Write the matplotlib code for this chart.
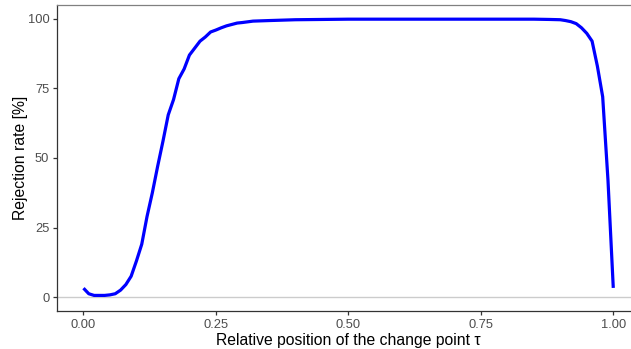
import matplotlib
matplotlib.use('Agg')
import matplotlib.pyplot as plt

plt.rcParams['font.family'] = ['Liberation Sans', 'DejaVu Sans']

# Rejection rate (%) against relative change point position tau
tau = [0.00, 0.01, 0.02, 0.03, 0.04, 0.05, 0.06, 0.07, 0.08, 0.09,
       0.10, 0.11, 0.12, 0.13, 0.14, 0.15, 0.16, 0.17, 0.18, 0.19,
       0.20, 0.21, 0.22, 0.23, 0.24, 0.25, 0.26, 0.27, 0.28, 0.29,
       0.30, 0.32, 0.35, 0.40, 0.45, 0.50, 0.55, 0.60, 0.65, 0.70,
       0.75, 0.80, 0.85, 0.88, 0.90, 0.91, 0.92, 0.93, 0.94, 0.95,
       0.96, 0.97, 0.98, 0.99, 1.00]
rejection = [3.2, 1.2, 0.6, 0.6, 0.6, 0.8, 1.2, 2.5, 4.5, 7.5,
             13.0, 19.0, 29.0, 37.5, 47.0, 56.0, 65.5, 71.0, 78.5, 82.0,
             87.0, 89.5, 92.0, 93.5, 95.3, 96.0, 96.8, 97.5, 98.0, 98.5,
             98.7, 99.2, 99.4, 99.7, 99.8, 99.9, 99.9, 99.9, 99.9, 99.9,
             99.9, 99.9, 99.9, 99.8, 99.7, 99.4, 99.0, 98.3, 96.8, 94.8,
             92.0, 83.0, 72.0, 42.0, 3.3]

x_ticks = [0.00, 0.25, 0.50, 0.75, 1.00]
x_tick_labels = ['0.00', '0.25', '0.50', '0.75', '1.00']
y_ticks = [0, 25, 50, 75, 100]

fig = plt.figure(figsize=(6.31, 3.49), dpi=100)
ax = fig.add_axes([0.0903, 0.1089, 0.9236, 0.8768])

ax.axhline(0, color='#cccccc', linewidth=1.0, zorder=1)
ax.plot(tau, rejection, color='#0000ff', linewidth=2.3, zorder=3,
        solid_joinstyle='round', solid_capstyle='butt')

ax.set_xlim(-0.05, 1.05)
ax.set_ylim(-5, 105)
ax.set_xticks(x_ticks)
ax.set_xticklabels(x_tick_labels)
ax.set_yticks(y_ticks)

for side in ('left', 'bottom'):
    ax.spines[side].set_color('#333333')
    ax.spines[side].set_linewidth(0.9)
ax.spines['top'].set_color('#808080')
ax.spines['top'].set_linewidth(0.9)
ax.spines['right'].set_visible(False)

ax.tick_params(axis='both', direction='out', length=3, width=0.9,
               color='#333333', labelcolor='#4d4d4d', labelsize=9.3, pad=2.5)

ax.set_xlabel('Relative position of the change point τ', fontsize=11.3,
              color='black', labelpad=1.5)
ax.set_ylabel('Rejection rate [%]', fontsize=11.3, color='black', labelpad=0)

fig.savefig('out.png', dpi=100)
